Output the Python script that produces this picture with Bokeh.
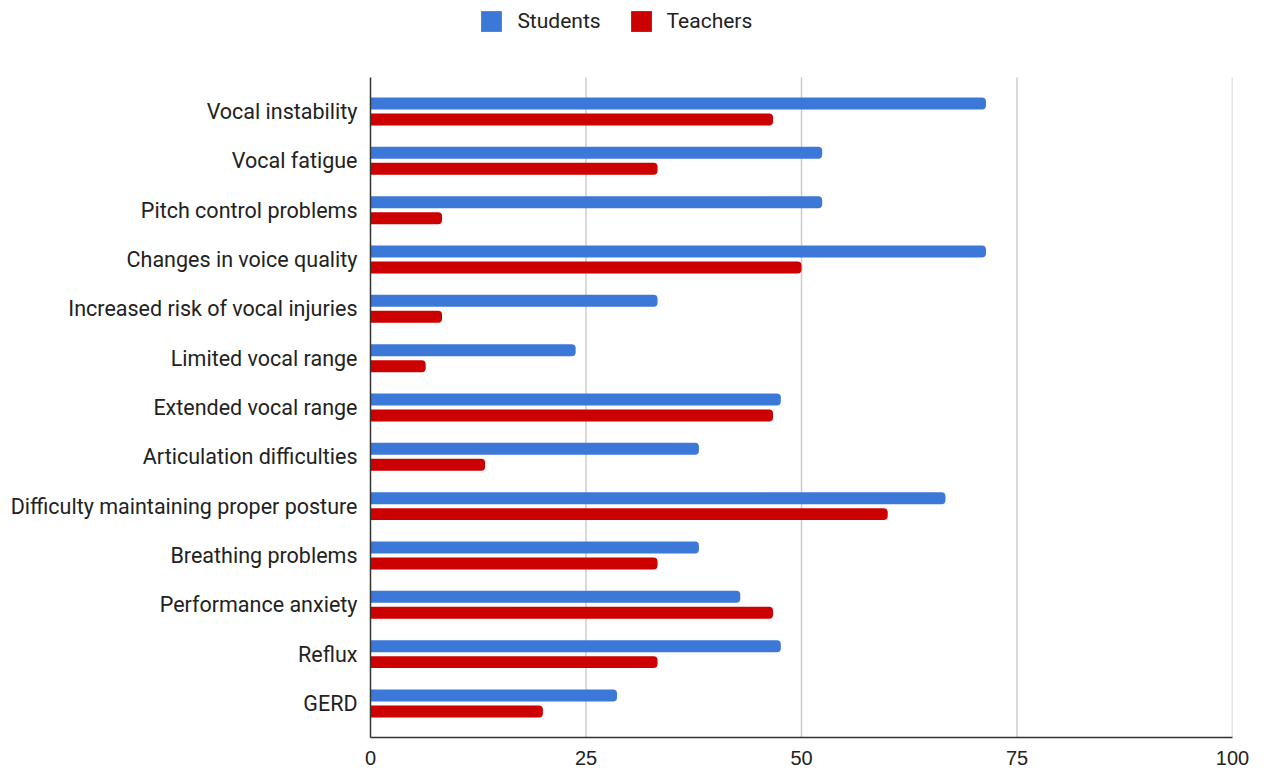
from bokeh.plotting import figure
from bokeh.models import (ColumnDataSource, Range1d, FixedTicker, Legend, LegendItem)
from bokeh.embed import file_html
from bokeh.resources import INLINE

# Survey results: share (%) of respondents reporting each issue
categories = [
    "Vocal instability",
    "Vocal fatigue",
    "Pitch control problems",
    "Changes in voice quality",
    "Increased risk of vocal injuries",
    "Limited vocal range",
    "Extended vocal range",
    "Articulation difficulties",
    "Difficulty maintaining proper posture",
    "Breathing problems",
    "Performance anxiety",
    "Reflux",
    "GERD",
]
students = [71.4, 52.4, 52.4, 71.4, 33.3, 23.8, 47.6, 38.1, 66.7, 38.1, 42.9, 47.6, 28.6]
teachers = [46.7, 33.3, 8.3, 50.0, 8.3, 6.4, 46.7, 13.3, 60.0, 33.3, 46.7, 33.3, 20.0]
x_ticks = [0, 25, 50, 75, 100]

BLUE = "#3c78d8"
RED = "#cc0000"
FONT = "Roboto"

n = len(categories)
# first category at the top
pos = [n - 1 - i for i in range(n)]
bar_h = 0.243
offset = 0.162
y_lo, y_hi = -0.69, n - 1 + 0.69      # extent of the bar area
y_top = y_hi + 1.56                    # headroom above the bars for the legend

src = ColumnDataSource(data=dict(
    cat=categories,
    students=students,
    teachers=teachers,
    y_s=[p + offset for p in pos],
    y_t=[p - offset for p in pos],
))

p = figure(
    width=1270, height=774,
    x_range=Range1d(0, 100),
    y_range=Range1d(y_lo, y_top),
    output_backend="svg",
    toolbar_location=None,
    min_border_left=370, min_border_right=38,
    min_border_top=0, min_border_bottom=37,
)
p.outline_line_color = None
p.background_fill_color = "white"
p.border_fill_color = "white"
p.xgrid.grid_line_color = None
p.ygrid.grid_line_color = None

# vertical grid lines limited to the bar area
grid_x = [t for t in x_ticks if t > 0]
p.segment(x0=grid_x, y0=[y_lo] * len(grid_x), x1=grid_x, y1=[y_hi] * len(grid_x),
          line_color="#cccccc", line_width=1.5)

r_s = p.hbar(y="y_s", left=0, right="students", height=bar_h, source=src,
             fill_color=BLUE, line_color=None, border_radius=[0, 4, 4, 0])
r_t = p.hbar(y="y_t", left=0, right="teachers", height=bar_h, source=src,
             fill_color=RED, line_color=None, border_radius=[0, 4, 4, 0])

# x axis
p.xaxis.ticker = FixedTicker(ticks=x_ticks)
p.xaxis.axis_line_color = "#333333"
p.xaxis.axis_line_width = 1.5
p.xaxis.major_tick_line_color = None
p.xaxis.minor_tick_line_color = None
p.xaxis.major_label_text_font = "Liberation Sans"
p.xaxis.major_label_text_font_size = "20px"
p.xaxis.major_label_text_color = "#222222"
p.xaxis.major_label_standoff = 7

# y axis with category names
p.yaxis.ticker = FixedTicker(ticks=pos)
p.yaxis.bounds = (y_lo, y_hi)
p.yaxis.major_label_overrides = {pv: c for pv, c in zip(pos, categories)}
p.yaxis.axis_line_color = "#333333"
p.yaxis.axis_line_width = 1.5
p.yaxis.major_tick_line_color = None
p.yaxis.minor_tick_line_color = None
p.yaxis.major_label_text_font = FONT
p.yaxis.major_label_text_font_size = "21.5px"
p.yaxis.major_label_text_color = "#222222"
p.yaxis.major_label_standoff = 7

legend = Legend(
    items=[LegendItem(label="Students", renderers=[r_s]),
           LegendItem(label="Teachers", renderers=[r_t])],
    orientation="horizontal",
    location=(108.4, 702.6),
    glyph_width=26, glyph_height=26,
    label_standoff=13, spacing=27, padding=8, margin=0,
    label_text_font=FONT, label_text_font_size="21px",
    label_text_color="#222222",
    border_line_color=None, background_fill_alpha=0,
)
p.add_layout(legend, "center")

open("out.html", "w").write(file_html(p, INLINE))
